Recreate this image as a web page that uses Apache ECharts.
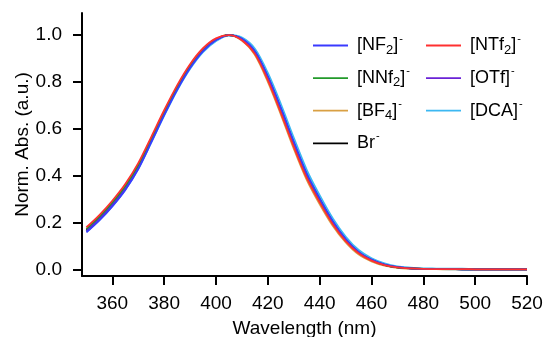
<!DOCTYPE html>
<html><head><meta charset="utf-8">
<script src="https://cdn.jsdelivr.net/npm/echarts@6/dist/echarts.min.js"></script>
<style>html,body{margin:0;padding:0;background:#fff}#c{width:544px;height:337px}</style>
</head><body><div id="c"></div>
<script>
const wavelengths = [350,355,360,365,370,375,380,385,390,395,400,405,410,415,420,425,430,435,440,445,450,455,460,465,470,475,480,485,490,495,500,505,510,515,520];
const xTicks = [360,380,400,420,440,460,480,500,520];
const yTicks = [0,0.2,0.4,0.6,0.8,1.0];

const NF2  = [0.160,0.211,0.271,0.341,0.430,0.543,0.659,0.767,0.860,0.932,0.979,1.000,0.984,0.931,0.823,0.689,0.544,0.409,0.303,0.208,0.132,0.077,0.044,0.023,0.012,0.007,0.005,0.004,0.004,0.003,0.003,0.003,0.003,0.003,0.003];
const NTf2 = [0.182,0.234,0.295,0.366,0.455,0.566,0.680,0.786,0.876,0.944,0.986,1.000,0.978,0.920,0.808,0.670,0.525,0.392,0.288,0.196,0.123,0.071,0.040,0.021,0.011,0.007,0.005,0.004,0.004,0.004,0.003,0.003,0.003,0.003,0.003];
const NNf2 = [0.175,0.227,0.288,0.358,0.447,0.559,0.673,0.779,0.869,0.938,0.982,1.000,0.981,0.925,0.816,0.681,0.536,0.402,0.297,0.203,0.128,0.074,0.042,0.022,0.011,0.007,0.005,0.004,0.004,0.003,0.003,0.003,0.003,0.003,0.003];
const OTf  = [0.168,0.220,0.280,0.350,0.438,0.551,0.666,0.773,0.865,0.935,0.980,1.000,0.983,0.929,0.822,0.687,0.542,0.407,0.302,0.207,0.131,0.076,0.044,0.023,0.012,0.007,0.005,0.004,0.004,0.003,0.003,0.003,0.003,0.003,0.003];
const BF4  = [0.172,0.224,0.284,0.355,0.443,0.556,0.671,0.778,0.869,0.938,0.982,1.000,0.977,0.916,0.802,0.664,0.518,0.385,0.281,0.190,0.119,0.067,0.037,0.019,0.010,0.006,0.004,0.004,0.003,0.003,0.003,0.003,0.003,0.003,0.003];
const DCA  = [0.163,0.214,0.274,0.344,0.432,0.545,0.660,0.767,0.858,0.929,0.976,0.999,0.988,0.940,0.836,0.704,0.560,0.424,0.316,0.219,0.141,0.084,0.049,0.027,0.014,0.009,0.006,0.005,0.004,0.004,0.003,0.003,0.003,0.003,0.003];
const Br   = [0.170,0.222,0.282,0.352,0.440,0.553,0.668,0.775,0.866,0.936,0.981,1.000,0.982,0.928,0.820,0.685,0.540,0.405,0.300,0.205,0.130,0.075,0.043,0.022,0.011,0.007,0.005,0.004,0.004,0.003,0.003,0.003,0.003,0.003,0.003];

const seriesDefs = [
  {name:'DCA',  data:DCA,  color:'#3cb8f2', w:2.4},
  {name:'BF4',  data:BF4,  color:'#d9a043', w:2},
  {name:'Br',   data:Br,   color:'#000000', w:1.7},
  {name:'OTf',  data:OTf,  color:'#6a22d6', w:1.7},
  {name:'NNf2', data:NNf2, color:'#229a2a', w:1.7},
  {name:'NF2',  data:NF2,  color:'#3a3aff', w:1.8},
  {name:'NTf2', data:NTf2, color:'#ff3030', w:1.8}
];
const labels = {
  NF2:  '{t|[NF}{sub|2}{t|]}{sup|-}',
  NTf2: '{t|[NTf}{sub|2}{t|]}{sup|-}',
  NNf2: '{t|[NNf}{sub|2}{t|]}{sup|-}',
  OTf:  '{t|[OTf]}{sup|-}',
  BF4:  '{t|[BF}{sub|4}{t|]}{sup|-}',
  DCA:  '{t|[DCA]}{sup|-}',
  Br:   '{t|Br}{sup|-}'
};
const FONT = '"Liberation Sans", Arial, sans-serif';
const rich = {
  t:{fontSize:18, fontFamily:FONT, color:'#000', lineHeight:20, verticalAlign:'middle'},
  sub:{fontSize:13, fontFamily:FONT, color:'#000', lineHeight:20, padding:[9,0,0,0], verticalAlign:'middle'},
  sup:{fontSize:11, fontFamily:FONT, color:'#000', lineHeight:20, padding:[0,0,14,1], verticalAlign:'middle'}
};
const LINE_ICON = 'path://M0,0 M35,20 M0,9.1 L35,9.1 L35,10.9 L0,10.9 Z';
function legendCfg(names, left){
  return {
    data: names, orient:'vertical', left: left, top: 28,
    itemWidth: 35, itemHeight: 20, itemGap: 7.6,
    icon: LINE_ICON,
    formatter: n => labels[n],
    textStyle: {rich: rich, padding:[0,0,0,4]},
    selectedMode: false
  };
}
const chart = echarts.init(document.getElementById('c'), null, {renderer:'canvas'});
chart.setOption({
  animation:false,
  backgroundColor:'#fff',
  grid:{left:82, right:17, top:13, bottom:61, containLabel:false, outerBoundsMode:'none'},
  legend:[legendCfg(['NF2','NNf2','BF4','Br'], 308), legendCfg(['NTf2','OTf','DCA'], 421)],
  xAxis:{
    type:'value', min:348.3, max:520,
    name:'Wavelength (nm)', nameLocation:'middle', nameGap:43,
    nameTextStyle:{fontSize:19, fontFamily:FONT, color:'#000'},
    axisLine:{show:true, onZero:false, lineStyle:{color:'#000', width:2}},
    axisTick:{show:true, length:9, lineStyle:{color:'#000', width:2}, customValues:xTicks},
    axisLabel:{fontSize:19, fontFamily:FONT, color:'#000', margin:18, customValues:xTicks},
    splitLine:{show:false}
  },
  yAxis:{
    type:'value', min:-0.0255, max:1.094,
    name:'Norm. Abs. (a.u.)', nameLocation:'middle', nameGap:50, nameMoveOverlap:false,
    nameTextStyle:{fontSize:19, fontFamily:FONT, color:'#000'},
    axisLine:{show:true, onZero:false, lineStyle:{color:'#000', width:2}},
    axisTick:{show:true, length:9, lineStyle:{color:'#000', width:2}, customValues:yTicks},
    axisLabel:{fontSize:19, fontFamily:FONT, color:'#000', margin:20, customValues:yTicks, formatter:v=>v.toFixed(1)},
    splitLine:{show:false}
  },
  series: seriesDefs.map(s => ({
    name:s.name, type:'line', symbol:'none', smooth:0.3,
    data: wavelengths.map((x,i)=>[x, s.data[i]]),
    lineStyle:{color:s.color, width:s.w}, itemStyle:{color:s.color}
  }))
});
</script></body></html>
